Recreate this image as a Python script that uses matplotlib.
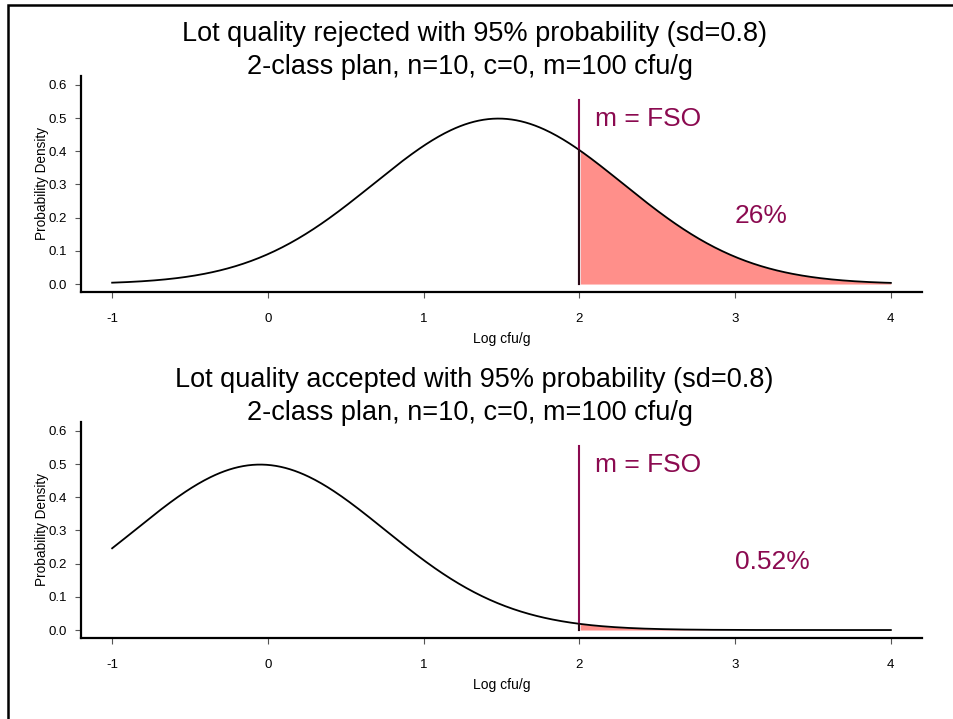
import numpy as np
import matplotlib.pyplot as plt
from matplotlib.patches import Rectangle

plt.rcParams['font.family'] = ['Liberation Sans', 'DejaVu Sans']

# values
titles = ["Lot quality rejected with 95% probability (sd=0.8)",
          "Lot quality accepted with 95% probability (sd=0.8)"]
subtitle = "2-class plan, n=10, c=0, m=100 cfu/g"
lot_means = [1.48, -0.05]
lot_sd = 0.8
m_limit = 2.0
pct_labels = ["26%", "0.52%"]
x_range = [-1, 4]
x_ticks = [-1, 0, 1, 2, 3, 4]
y_ticks = [0.0, 0.1, 0.2, 0.3, 0.4, 0.5, 0.6]

maroon = "#8b0a50"
fill_col = "#ff8f8a"

fig = plt.figure(figsize=(9.54, 7.19), dpi=100)

# figure frame, running off the right and bottom edges
fig.patches.append(Rectangle((8 / 954, -0.1), 1.2, 1.1 - 5 / 719,
                             transform=fig.transFigure, fill=False,
                             edgecolor="black", linewidth=1.8))

axes_pos = [[81 / 954, 1 - 292 / 719, 841 / 954, 216 / 719],
            [81 / 954, 1 - 638 / 719, 841 / 954, 216 / 719]]
title_y = [[1 - 34 / 719, 1 - 67 / 719], [1 - 380 / 719, 1 - 413 / 719]]

x = np.linspace(x_range[0], x_range[1], 500)

for i in range(2):
    ax = fig.add_axes(axes_pos[i])
    dens = np.exp(-0.5 * ((x - lot_means[i]) / lot_sd) ** 2) / (lot_sd * np.sqrt(2 * np.pi))

    tail = x >= m_limit
    ax.fill_between(x[tail], 0, dens[tail], color=fill_col, linewidth=0)
    ax.plot(x, dens, color="black", linewidth=1.3)
    d_m = np.exp(-0.5 * ((m_limit - lot_means[i]) / lot_sd) ** 2) / (lot_sd * np.sqrt(2 * np.pi))
    ax.plot([m_limit, m_limit], [0, 0.555], color=maroon, linewidth=1.5)
    ax.plot([m_limit, m_limit], [0, d_m], color="#2a0a16", linewidth=1.5)

    ax.text(2.1, 0.497, "m = FSO", color=maroon, fontsize=19, va="center", ha="left")
    ax.text(3.0, 0.205, pct_labels[i], color=maroon, fontsize=19, va="center", ha="left")

    ax.set_xlim(-1.2, 4.2)
    ax.set_ylim(-0.024, 0.627)
    ax.set_xticks(x_ticks)
    ax.set_xticklabels([str(t) for t in x_ticks])
    ax.set_yticks(y_ticks)
    ax.set_yticklabels([f"{t:.1f}" for t in y_ticks])
    ax.tick_params(labelsize=9.5, length=4, width=0.8, color="#555555")
    ax.tick_params(axis="x", pad=11)
    ax.tick_params(axis="y", pad=6)
    for s in ["top", "right"]:
        ax.spines[s].set_visible(False)
    for s in ["left", "bottom"]:
        ax.spines[s].set_linewidth(1.6)
    ax.set_xlabel("Log cfu/g", fontsize=10, labelpad=5)
    ax.set_ylabel("Probability Density", fontsize=9.8)
    ax.yaxis.set_label_coords(-0.038, 0.5)

    fig.text(0.497, title_y[i][0], titles[i], fontsize=19.5, ha="center", va="center")
    fig.text(0.493, title_y[i][1], subtitle, fontsize=19.5, ha="center", va="center")

plt.savefig("out.png", dpi=100)
